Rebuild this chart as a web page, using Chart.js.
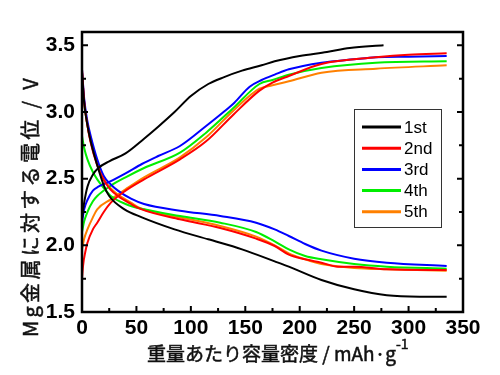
<!DOCTYPE html>
<html>
<head>
<meta charset="utf-8">
<script src="https://cdn.jsdelivr.net/npm/chart.js@4.4.1/dist/chart.umd.min.js"></script>
<style>
  html, body { margin: 0; padding: 0; background: #fff; }
</style>
</head>
<body>
<canvas id="cycleChart" width="500" height="375"></canvas>
<script>
// cycle labels / colours
var cycleLabels = ['1st', '2nd', '3rd', '4th', '5th'];
var cycleColors = ['#000000', '#ff0000', '#0000ff', '#00ee00', '#ff8000'];

// axis ticks
var xTicks = [0, 50, 100, 150, 200, 250, 300, 350];
var yTicks = [1.5, 2.0, 2.5, 3.0, 3.5];

// charge curves [capacity mAh/g, voltage V]
var charge1 = [[0,2.2],[2,2.32],[5,2.44],[10,2.53],[15,2.58],[25,2.63],[40,2.69],[57,2.8],[70,2.89],[85,3.0],[100,3.12],[116,3.21],[130,3.26],[147,3.31],[165,3.35],[177,3.38],[200,3.42],[225,3.45],[246,3.48],[277,3.5]];
var charge2 = [[0,1.75],[1,1.85],[3,1.95],[5,2.02],[10,2.12],[14,2.17],[20,2.25],[26.5,2.32],[40,2.41],[57,2.495],[90,2.645],[114,2.78],[139,2.98],[163,3.16],[175,3.22],[190,3.27],[220,3.36],[270,3.41],[300,3.43],[335,3.44]];
var charge3 = [[0,2.17],[2,2.27],[5,2.34],[10,2.41],[15,2.44],[26,2.48],[40,2.54],[55,2.61],[70,2.67],[90,2.745],[114,2.895],[130,3.0],[140,3.07],[154,3.19],[165,3.24],[177,3.28],[190,3.32],[220,3.37],[250,3.395],[270,3.41],[300,3.415],[335,3.42]];
var charge4 = [[0,2.1],[2,2.18],[5,2.25],[10,2.33],[14,2.37],[26,2.445],[40,2.51],[57,2.58],[90,2.695],[114,2.845],[139,3.03],[163,3.21],[175,3.24],[190,3.28],[220,3.33],[270,3.37],[335,3.38]];
var charge5 = [[0,1.97],[2,2.05],[5,2.12],[10,2.21],[14,2.27],[26.5,2.345],[40,2.42],[57,2.51],[90,2.66],[114,2.81],[139,3.01],[163,3.175],[175,3.2],[190,3.23],[220,3.295],[270,3.325],[335,3.35]];

// discharge curves
var discharge1 = [[0,3.3],[2,3.07],[5,2.9],[8,2.78],[14,2.6],[20,2.45],[25,2.37],[39,2.27],[55,2.21],[85,2.12],[116,2.045],[147,1.97],[177,1.88],[190,1.84],[220,1.74],[250,1.67],[280,1.625],[310,1.615],[335,1.615]];
var discharge2 = [[0,3.32],[2,3.08],[5,2.9],[8,2.77],[14,2.6],[20,2.49],[26,2.42],[33,2.37],[45,2.31],[53,2.275],[90,2.195],[127,2.13],[160,2.05],[177,1.995],[190,1.93],[205,1.895],[220,1.87],[235,1.84],[250,1.84],[280,1.82],[335,1.815]];
var discharge3 = [[0,3.32],[2,3.1],[5,2.93],[8,2.82],[14,2.645],[20,2.52],[26,2.46],[33,2.41],[45,2.35],[57,2.31],[90,2.26],[127,2.22],[160,2.17],[177,2.12],[190,2.07],[205,2.01],[220,1.96],[250,1.9],[280,1.87],[335,1.845]];
var discharge4 = [[0,2.82],[2,2.73],[5,2.645],[10,2.55],[14,2.495],[20,2.43],[26.5,2.37],[40,2.31],[57,2.27],[90,2.22],[127,2.17],[160,2.1],[177,2.03],[190,1.97],[205,1.92],[220,1.895],[250,1.86],[280,1.84],[335,1.825]];
var discharge5 = [[0,3.3],[2,3.07],[5,2.9],[8,2.78],[14,2.61],[20,2.5],[26,2.43],[33,2.38],[45,2.32],[53,2.28],[90,2.21],[127,2.145],[160,2.065],[177,2.0],[190,1.94],[205,1.895],[220,1.86],[250,1.83],[280,1.82],[335,1.81]];

var charges = [charge1, charge2, charge3, charge4, charge5];
var discharges = [discharge1, discharge2, discharge3, discharge4, discharge5];

function pts(arr) {
    return arr.map(function (p) { return { x: p[0], y: p[1] }; });
}

var datasets = [];
for (var i = 0; i < cycleLabels.length; i++) {
    datasets.push({ label: cycleLabels[i], data: pts(charges[i]), borderColor: cycleColors[i], kind: 'charge' });
    datasets.push({ label: cycleLabels[i], data: pts(discharges[i]), borderColor: cycleColors[i], kind: 'discharge' });
}
datasets.forEach(function (d) {
    d.showLine = true;
    d.borderWidth = 2;
    d.pointRadius = 0;
    d.cubicInterpolationMode = 'monotone';
    d.fill = false;
});

// draw text stretched to a given width (letter spacing)
function spacedText(ctx, text, x, y, width) {
    ctx.letterSpacing = '0px';
    var w0 = ctx.measureText(text).width;
    var sp = Math.max(0, (width - w0) / text.length);
    ctx.letterSpacing = sp.toFixed(2) + 'px';
    ctx.fillText(text, x, y);
    ctx.lineWidth = 0.5;
    ctx.strokeText(text, x, y);
    var w = ctx.measureText(text).width;
    ctx.letterSpacing = '0px';
    return w;
}

// frame, inward ticks, titles and legend box
var decor = {
    id: 'decor',
    afterDraw: function (chart) {
        var ctx = chart.ctx, a = chart.chartArea;
        var xs = chart.scales.x, ys = chart.scales.y;
        ctx.save();
        ctx.strokeStyle = '#000';
        ctx.lineWidth = 2.5;
        ctx.strokeRect(a.left, a.top, a.right - a.left, a.bottom - a.top);

        ctx.lineWidth = 2;
        ctx.beginPath();
        for (var i = 0; i < xTicks.length; i++) {
            var px = xs.getPixelForValue(xTicks[i]);
            ctx.moveTo(px, a.bottom); ctx.lineTo(px, a.bottom - 6);
            if (i < xTicks.length - 1) {
                var mx = xs.getPixelForValue((xTicks[i] + xTicks[i + 1]) / 2);
                ctx.moveTo(mx, a.bottom); ctx.lineTo(mx, a.bottom - 4);
            }
        }
        for (var j = 0; j < yTicks.length; j++) {
            var py = ys.getPixelForValue(yTicks[j]);
            ctx.moveTo(a.left, py); ctx.lineTo(a.left + 6, py);
            ctx.moveTo(a.right, py); ctx.lineTo(a.right - 6, py);
            if (j < yTicks.length - 1) {
                var my = ys.getPixelForValue((yTicks[j] + yTicks[j + 1]) / 2);
                ctx.moveTo(a.left, my); ctx.lineTo(a.left + 4, my);
                ctx.moveTo(a.right, my); ctx.lineTo(a.right - 4, my);
            }
        }
        ctx.stroke();

        // axis titles
        ctx.fillStyle = '#111';
        ctx.strokeStyle = '#111';
        ctx.textBaseline = 'middle';
        ctx.textAlign = 'left';
        ctx.font = '19px "Noto Sans CJK JP"';
        var w = spacedText(ctx, '重量あたり容量密度 / mAh·g', 147, 354, 240);
        ctx.font = '14px "Noto Sans CJK JP"';
        ctx.fillText('-1', 147 + w, 344);
        ctx.strokeText('-1', 147 + w, 344);

        ctx.translate(30, 337);
        ctx.rotate(-Math.PI / 2);
        ctx.font = '20px "Noto Sans CJK JP"';
        spacedText(ctx, 'Mg金属に対する電位 / V', 0, 0, 262);
        ctx.restore();

        // legend
        ctx.save();
        ctx.fillStyle = '#fff';
        ctx.fillRect(354, 109, 87, 118);
        ctx.strokeStyle = '#333';
        ctx.lineWidth = 1;
        ctx.strokeRect(354.5, 109.5, 87, 118);
        ctx.font = '17px "Liberation Sans"';
        ctx.textAlign = 'left';
        ctx.textBaseline = 'middle';
        var rows = chart.data.datasets.filter(function (d) { return d.kind === 'charge'; });
        rows.forEach(function (d, k) {
            var y = 127 + k * 21.2;
            ctx.strokeStyle = d.borderColor;
            ctx.lineWidth = 3;
            ctx.beginPath();
            ctx.moveTo(362, y); ctx.lineTo(401, y);
            ctx.stroke();
            ctx.fillStyle = '#000';
            ctx.fillText(d.label, 404, y + 1);
        });
        ctx.restore();
    }
};

var cycleCtx = document.getElementById('cycleChart').getContext('2d');
var cycleChart = new Chart(cycleCtx, {
    type: 'scatter',
    data: { datasets: datasets },
    options: {
        responsive: false,
        animation: false,
        layout: { padding: { top: 32, right: 37, left: 0, bottom: 0 } },
        plugins: { legend: { display: false }, tooltip: { enabled: false } },
        scales: {
            x: {
                type: 'linear', min: 0, max: 350,
                afterBuildTicks: function (s) { s.ticks = xTicks.map(function (v) { return { value: v }; }); },
                afterFit: function (s) { s.height = 63; },
                grid: { display: false, drawTicks: false },
                border: { display: false },
                ticks: { padding: 4, color: '#000', font: { family: 'Liberation Sans', size: 21, weight: 'bold' }, maxRotation: 0 }
            },
            y: {
                type: 'linear', min: 1.5, max: 3.6,
                afterBuildTicks: function (s) { s.ticks = yTicks.map(function (v) { return { value: v }; }); },
                afterFit: function (s) { s.width = 82; },
                grid: { display: false, drawTicks: false },
                border: { display: false },
                ticks: { padding: 7, color: '#000', font: { family: 'Liberation Sans', size: 21, weight: 'bold' },
                         callback: function (v) { return v.toFixed(1); } }
            }
        }
    },
    plugins: [decor]
});
</script>
</body>
</html>
